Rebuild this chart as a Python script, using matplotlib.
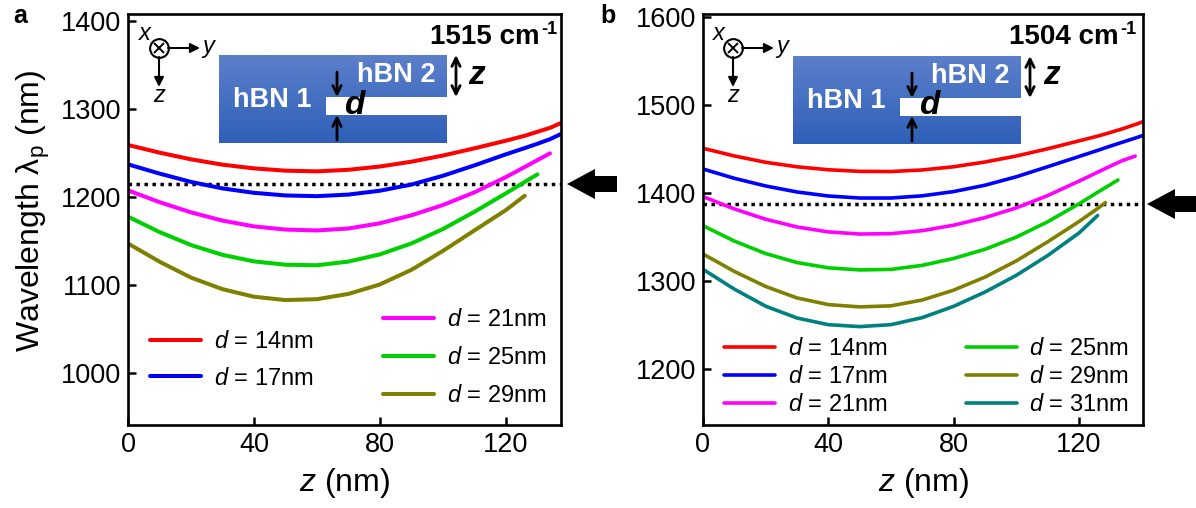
import numpy as np
import matplotlib
matplotlib.use("Agg")
import matplotlib.pyplot as plt
from matplotlib.patches import Polygon, Rectangle

plt.rcParams['font.family'] = ['Liberation Sans', 'DejaVu Sans']
plt.rcParams['mathtext.fontset'] = 'custom'
plt.rcParams['mathtext.rm'] = 'Liberation Sans'
plt.rcParams['mathtext.it'] = 'Liberation Sans:italic'
plt.rcParams['mathtext.bf'] = 'Liberation Sans:bold'

W, H = 1196, 508

# values, panel a
z_a = [0, 10, 20, 30, 40, 50, 60, 70, 80, 90, 100, 110, 120, 126, 130, 134, 137.5]
red_a = [1259, 1250.3, 1242.7, 1236.6, 1232.4, 1229.8, 1229, 1230.8, 1234.5, 1240, 1247, 1255.2, 1263.9, 1269.5, 1274, 1278.5, 1284]
blue_a = [1237, 1226.5, 1217, 1209.6, 1204.6, 1201.6, 1200.8, 1202.6, 1207, 1214, 1224, 1235.8, 1248.4, 1255.5, 1260.4, 1265.6, 1271.5]
magenta_a = [1207.4, 1194, 1182.4, 1173, 1166.4, 1162.8, 1161.8, 1164, 1170, 1179, 1190.7, 1205.1, 1222.5, 1234, 1241.8, 1249.5]
green_a = [1177.5, 1160, 1145.2, 1134, 1126.6, 1122.8, 1122.2, 1126.4, 1134.6, 1147, 1163.4, 1183, 1204, 1217, 1225.6]
olive_a = [1147, 1126.3, 1108.2, 1095, 1086.4, 1082.6, 1083.6, 1089.6, 1100.4, 1117, 1138.5, 1161.8, 1185, 1201.3]

# panel b
z_b = [0, 10, 20, 30, 40, 50, 60, 70, 80, 90, 100, 110, 120, 126, 130, 134, 138, 140.5]
z_green_b = [0, 10, 20, 30, 40, 50, 60, 70, 80, 90, 100, 110, 120, 126, 130, 132.5]
z_olive_b = [0, 10, 20, 30, 40, 50, 60, 70, 80, 90, 100, 110, 120, 126, 128.5]
red_b = [1450.4, 1441.7, 1434.5, 1429.4, 1426, 1424.2, 1424, 1425.8, 1429.4, 1434.8, 1441.6, 1449.8, 1458.8, 1464.2, 1468.3, 1472.6, 1477.4, 1480.6]
blue_b = [1426.9, 1416.3, 1407.6, 1400.8, 1396.2, 1393.9, 1393.9, 1396.4, 1401.2, 1408.4, 1418, 1429.4, 1441, 1448, 1452.8, 1457.4, 1462, 1465]
magenta_b = [1395.5, 1381.5, 1369.8, 1361, 1355.4, 1353, 1353.4, 1356.8, 1363, 1371.6, 1382.6, 1396.6, 1413, 1423.2, 1430, 1436.6, 1441.5]
green_b = [1362.5, 1345, 1330.8, 1320.6, 1314.6, 1312.2, 1312.8, 1317.4, 1325.2, 1335.6, 1349.4, 1366.8, 1387.2, 1400.4, 1409, 1414.4]
olive_b = [1330.3, 1310.5, 1293.4, 1280.4, 1272.8, 1270.2, 1271.4, 1278, 1289.2, 1304, 1322.4, 1344, 1367, 1382, 1388.7]
teal_b = [1312.9, 1290.4, 1271, 1257.6, 1250, 1247.8, 1250, 1258, 1270.8, 1287, 1306, 1328.4, 1354, 1374]

colors = {'red': '#ff0000', 'blue': '#0000ff', 'magenta': '#ff00ff',
          'green': '#00d000', 'olive': '#808000', 'teal': '#008080'}

labels_a = ['14', '17', '21', '25', '29']
labels_b = ['14', '17', '21', '25', '29', '31']


def dlabel(s):
    return r'$\mathit{d}$ = ' + s + 'nm'


def make_axes(fig, left, right, top, bottom):
    ax = fig.add_axes([left / W, 1 - bottom / H, (right - left) / W, (bottom - top) / H])
    for sp in ax.spines.values():
        sp.set_linewidth(1.9)
    ax.tick_params(axis='both', direction='in', length=6, width=1.8, labelsize=19.5, pad=5)
    ax.set_xticks([0, 40, 80, 120])
    ax.set_xlabel(r'$\mathit{z}$ (nm)', fontsize=23, labelpad=6)
    return ax


fig = plt.figure(figsize=(W / 100, H / 100), dpi=100)

# panel a
ax1 = make_axes(fig, 128, 561, 14, 425)
ax1.set_xlim(0, 137.5)
ax1.set_ylim(940.5, 1408)
ax1.set_yticks([1000, 1100, 1200, 1300, 1400])
ax1.axhline(1214.6, color='k', ls=(0, (1, 1.3)), lw=2.5, zorder=1)
lines_a = []
for name, ys in zip(['red', 'blue', 'magenta', 'green', 'olive'],
                    [red_a, blue_a, magenta_a, green_a, olive_a]):
    lines_a.append(ax1.plot(z_a[:len(ys)], ys, color=colors[name], lw=2.9, solid_capstyle='round')[0])
ax1.set_ylabel(r'Wavelength $\mathrm{\lambda}_{\mathrm{p}}$ (nm)', fontsize=23)
ax1.yaxis.set_label_coords(-0.176, 0.52)

leg_kw = dict(frameon=False, fontsize=17, handlelength=2.16, handletextpad=0.55,
              borderaxespad=0, borderpad=0)
leg1 = ax1.legend(lines_a[:2], [dlabel(s) for s in labels_a[:2]], loc='upper left',
                  bbox_to_anchor=(22 / 433, 1 - 317 / 411), labelspacing=0.62, **leg_kw)
ax1.add_artist(leg1)
ax1.legend(lines_a[2:], [dlabel(s) for s in labels_a[2:]], loc='upper left',
           bbox_to_anchor=(255 / 433, 1 - 295 / 411), labelspacing=0.68, **leg_kw)

# panel b
ax2 = make_axes(fig, 703, 1143, 14, 425)
ax2.set_xlim(0, 140.5)
ax2.set_ylim(1136, 1603)
ax2.set_yticks([1200, 1300, 1400, 1500, 1600])
ax2.axhline(1386.8, color='k', ls=(0, (1, 1.3)), lw=2.5, zorder=1)
lines_b = []
for name, zs, ys in zip(['red', 'blue', 'magenta', 'green', 'olive', 'teal'],
                        [z_b, z_b, z_b, z_green_b, z_olive_b, z_b],
                        [red_b, blue_b, magenta_b, green_b, olive_b, teal_b]):
    lines_b.append(ax2.plot(zs[:len(ys)], ys, color=colors[name], lw=2.6, solid_capstyle='round')[0])
ax2.legend(lines_b, [dlabel(s) for s in labels_b], ncol=2, loc='upper left',
           bbox_to_anchor=(21 / 440, 1 - 324 / 411), labelspacing=0.25, columnspacing=3.3, **leg_kw)

# overlay in pixel coordinates for the schematics
ov = fig.add_axes([0, 0, 1, 1])
ov.set_xlim(0, W)
ov.set_ylim(H, 0)
ov.axis('off')
ov.patch.set_alpha(0)

grad = np.linspace(0, 1, 64).reshape(-1, 1)
cmap = matplotlib.colors.LinearSegmentedColormap.from_list('hbn', ['#5b7fca', '#2f60b8'])


def arrow(x0, y0, x1, y1, style='-|>', lw=1.6, ms=13):
    ov.annotate('', xy=(x1, y1), xytext=(x0, y0), zorder=5,
                arrowprops=dict(arrowstyle=style, color='k', lw=lw, mutation_scale=ms,
                                shrinkA=0, shrinkB=0))


def schematic(left, right, top, bottom, gap_x, gap_top, gap_bot, freq, hbn1_x, hbn2_x, gap_arr_x, d_x, z_arr_x, z_x, cm_end):
    ov.imshow(grad, extent=(left, right, bottom, top), cmap=cmap, aspect='auto', zorder=2)
    ov.add_patch(Rectangle((gap_x, gap_top), right - gap_x + 1, gap_bot - gap_top, fc='w', ec='none', zorder=3))
    ov.text(hbn1_x, top + 45, 'hBN 1', color='w', fontsize=19.5, fontweight='bold', ha='center', va='center', zorder=4)
    ov.text(hbn2_x, top + 20, 'hBN 2', color='w', fontsize=19.5, fontweight='bold', ha='center', va='center', zorder=4)
    # gap arrows
    arrow(gap_arr_x, top + 17, gap_arr_x, gap_top, style='->', lw=2, ms=15)
    arrow(gap_arr_x, top + 85, gap_arr_x, gap_bot, style='->', lw=2, ms=15)
    ov.text(d_x, top + 50, 'd', fontsize=24, fontweight='bold', fontstyle='italic', ha='center', va='center', zorder=5)
    # z arrow
    arrow(z_arr_x, top, z_arr_x, top + 42, style='<->', lw=2, ms=15)
    ov.text(z_x, top + 20, 'z', fontsize=24, fontweight='bold', fontstyle='italic', ha='center', va='center', zorder=5)
    ov.text(cm_end, 37, freq + ' cm', fontsize=20, fontweight='bold', ha='right', va='center', zorder=5)
    ov.text(cm_end + 1, 29, '-1', fontsize=13, fontweight='bold', ha='left', va='center', zorder=5)


def axes_icon(cx, cy):
    ov.plot([cx], [cy], 'o', ms=13.5, mfc='w', mec='k', mew=1.5, zorder=5)
    ov.plot([cx], [cy], 'x', ms=7.5, mec='k', mew=1.4, zorder=6)
    arrow(cx + 9, cy, cx + 41, cy, ms=14, lw=1.5)
    arrow(cx, cy + 9, cx, cy + 39, ms=14, lw=1.5)
    ov.text(cx - 14, cy - 15, 'x', fontsize=17, fontstyle='italic', ha='center', va='center')
    ov.text(cx + 49, cy - 2, 'y', fontsize=17, fontstyle='italic', ha='center', va='center')
    ov.text(cx, cy + 48, 'z', fontsize=17, fontstyle='italic', ha='center', va='center')


def big_arrow(tip, tail, y):
    ov.add_patch(Polygon([(tip, y), (tip + 28, y - 15), (tip + 28, y - 8), (tail, y - 8),
                          (tail, y + 8), (tip + 28, y + 8), (tip + 28, y + 15)],
                         closed=True, fc='k', ec='none', clip_on=False))


axes_icon(159, 48)
schematic(219, 447, 55, 143, 326, 97, 115, '1515', 272, 396, 337, 354, 456, 477, 540)
big_arrow(567, 617, 184)

axes_icon(733, 48)
schematic(793, 1021, 56, 144, 900, 98, 116, '1504', 846, 970, 912, 929, 1030, 1052, 1119)
big_arrow(1147, 1196, 204)

ov.set_xlim(0, W)
ov.set_ylim(H, 0)

ov.text(13, 16, 'a', fontsize=18, fontweight='bold', ha='left', va='center')
ov.text(600, 16, 'b', fontsize=18, fontweight='bold', ha='left', va='center')

fig.savefig('out.png', dpi=100)
